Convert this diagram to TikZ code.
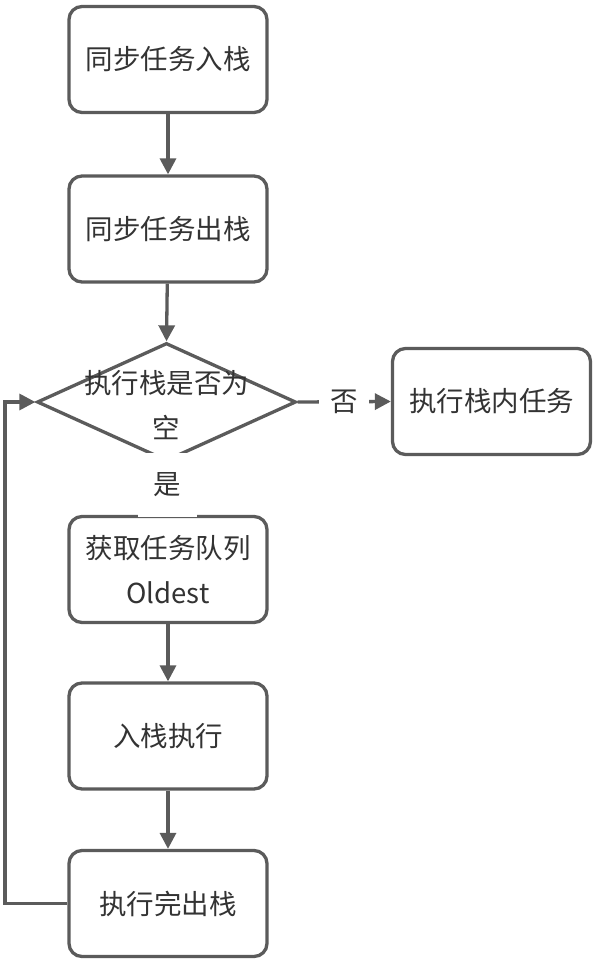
\documentclass[tikz,border=0pt]{standalone}
\usepackage{fontspec}
\newfontfamily\cjk{Noto Sans CJK SC}
\usetikzlibrary{arrows.meta,shapes.geometric}
\definecolor{ln}{HTML}{5B5B5B}
\definecolor{tx}{HTML}{333333}
\begin{document}
\begin{tikzpicture}[x=1pt,y=-1pt,
  every node/.style={font=\cjk\fontsize{27.5}{45}\selectfont, text=tx},
  box/.style={draw=ln, line width=3.3pt, fill=white, rounded corners=13pt,
    minimum width=198pt, minimum height=106pt, inner sep=0pt, align=center},
  conn/.style={draw=ln, line width=3.3pt, -{Triangle[length=16pt,width=16pt]}},
  lbl/.style={fill=white, inner sep=0pt}]
\useasboundingbox (0,0) rectangle (594,964);
\node[box] (b1) at (168,59.5) {同步任务入栈};
\node[box] (b2) at (168,229) {同步任务出栈};
\node[draw=ln, line width=3.3pt, diamond, minimum width=259pt, minimum height=118pt, inner sep=0pt] (dia) at (166.5,402) {};
\node[align=center, inner sep=0pt] (diat) at (166.5,405.5) {执行栈是否为\\空};
\node[box] (r) at (491.5,401.5) {执行栈内任务};
\node[box] (b3) at (168,569.5) {获取任务队列\\Oldest};
\node[box] (b4) at (168,736) {入栈执行};
\node[box] (b5) at (168,903.5) {执行完出栈};
\draw[conn] (b1) -- (b2);
\draw[conn] (b2) -- (dia.north);
\draw[conn] (dia.east) -- node[lbl, minimum width=50pt, minimum height=30pt] (no) {否} (r.west);
\draw[draw=ln, line width=3.3pt] (dia.south) -- (b3.north);
\node[lbl, minimum width=59pt, minimum height=64pt] (yes) at (167.5,485) {是};
\draw[conn] (b3) -- (b4);
\draw[conn] (b4) -- (b5);
\coordinate (c1) at (5,903.5);
\coordinate (c2) at (5,402);
\draw[conn, rounded corners=0pt] (b5.west) -- (c1) -- (c2) -- (dia.west);
\end{tikzpicture}
\end{document}
